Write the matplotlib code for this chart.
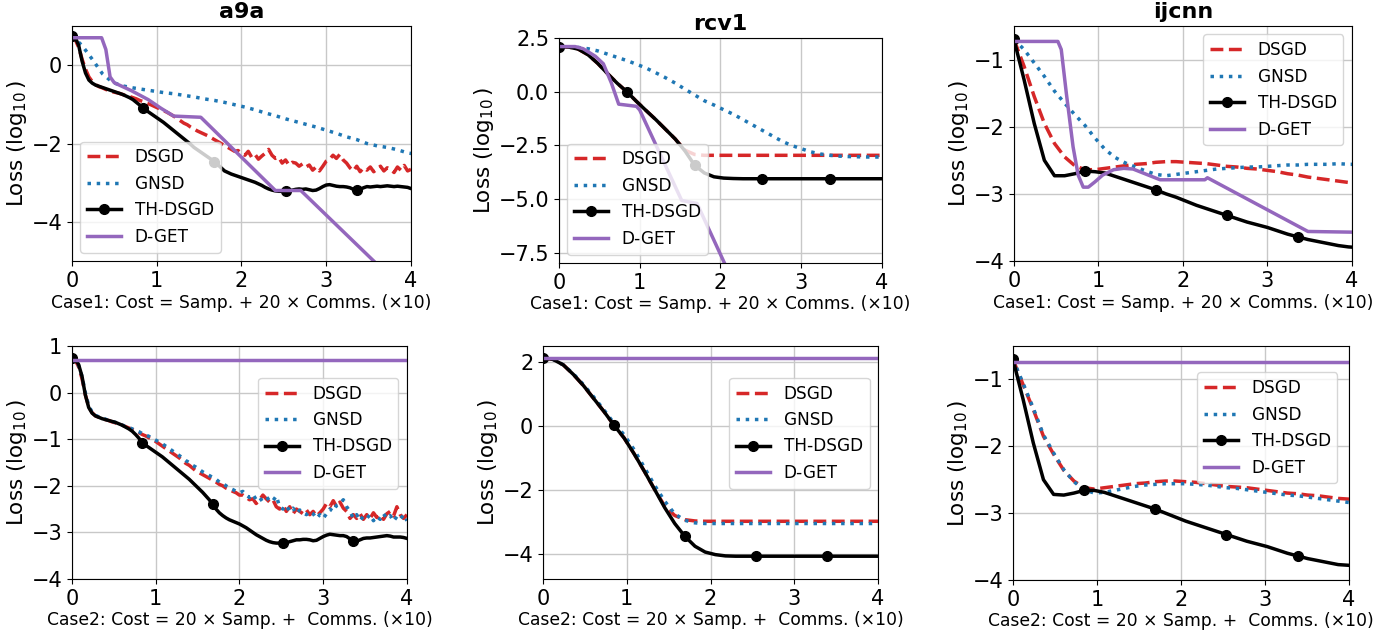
import numpy as np
import matplotlib
matplotlib.use('Agg')
import matplotlib.pyplot as plt

# x grids (cost, x10)
x_case1 = np.round(np.arange(35) * 0.12, 3)
x_case2 = np.round(np.arange(35) * 0.121, 3)
x_fine = np.round(np.linspace(0, 4, 101), 2)

# ---------------- a9a, case 1 ----------------
a9a_c1_dsgd = [0.75, 0.65, 0.45, 0.15, -0.10, -0.30, -0.42, -0.50, -0.55, -0.58,
               -0.62, -0.65, -0.68, -0.70, -0.72, -0.75, -0.78, -0.80, -0.83, -0.86,
               -0.90, -0.93, -0.97, -1.00, -1.04, -1.08, -1.12, -1.16, -1.20, -1.25,
               -1.30, -1.36, -1.42, -1.48, -1.52, -1.58, -1.63, -1.68, -1.72, -1.76,
               -1.80, -1.85, -1.90, -1.95, -2.00, -2.05, -2.10, -2.15, -2.20, -2.18,
               -2.25, -2.30, -2.20, -2.35, -2.28, -2.40, -2.32, -2.25, -2.15, -2.30,
               -2.38, -2.35, -2.50, -2.42, -2.55, -2.48, -2.50, -2.58, -2.52, -2.60,
               -2.55, -2.68, -2.60, -2.70, -2.58, -2.45, -2.40, -2.30, -2.38, -2.28,
               -2.42, -2.50, -2.62, -2.70, -2.58, -2.72, -2.62, -2.68, -2.60, -2.72,
               -2.65, -2.58, -2.70, -2.62, -2.66, -2.74, -2.60, -2.68, -2.56, -2.70,
               -2.66]
a9a_c1_gnsd = [0.75, 0.50, 0.15, -0.22, -0.44, -0.53, -0.58, -0.62, -0.66, -0.70,
               -0.73, -0.77, -0.81, -0.86, -0.90, -0.95, -1.01, -1.07, -1.14, -1.22,
               -1.29, -1.37, -1.44, -1.51, -1.58, -1.66, -1.74, -1.83, -1.90, -2.00,
               -2.06, -2.10, -2.16, -2.24, -2.28]
a9a_c1_th = [0.75, 0.70, 0.50, 0.10, -0.20, -0.38, -0.46, -0.51, -0.54, -0.57,
             -0.60, -0.63, -0.66, -0.69, -0.72, -0.75, -0.79, -0.83, -0.88, -0.95,
             -1.02, -1.10, -1.16, -1.22, -1.28, -1.34, -1.40, -1.46, -1.53, -1.60,
             -1.67, -1.74, -1.81, -1.88, -1.95, -2.02, -2.10, -2.16, -2.22, -2.28,
             -2.34, -2.40, -2.46, -2.54, -2.62, -2.70, -2.74, -2.78, -2.81, -2.84,
             -2.87, -2.90, -2.93, -2.96, -2.99, -3.03, -3.07, -3.12, -3.16, -3.19,
             -3.21, -3.22, -3.22, -3.22, -3.21, -3.19, -3.17, -3.16, -3.17, -3.16,
             -3.18, -3.20, -3.19, -3.15, -3.10, -3.06, -3.05, -3.07, -3.09, -3.10,
             -3.10, -3.11, -3.13, -3.17, -3.19, -3.17, -3.13, -3.10, -3.11, -3.10,
             -3.09, -3.10, -3.09, -3.08, -3.09, -3.10, -3.09, -3.10, -3.11, -3.12,
             -3.15]
a9a_c1_dget_x = [0, 0.35, 0.40, 0.45, 0.50, 0.70, 0.90, 1.05, 1.20, 1.52, 2.40, 2.70, 4.00]
a9a_c1_dget = [0.70, 0.70, 0.40, -0.30, -0.45, -0.65, -0.88, -1.10, -1.30, -1.33, -3.20, -3.20, -5.92]

# ---------------- rcv1, case 1 ----------------
rcv1_c1_dsgd = [2.10, 2.08, 1.98, 1.72, 1.32, 0.85, 0.40, 0.00, -0.45, -0.88,
                -1.30, -1.75, -2.20, -2.72, -2.92, -2.96] + [-2.96] * 19
rcv1_c1_gnsd = [2.10, 2.09, 2.06, 2.00, 1.90, 1.75, 1.60, 1.45, 1.28, 1.10,
                0.88, 0.65, 0.40, 0.12, -0.15, -0.42, -0.62, -0.84, -1.05, -1.30,
                -1.55, -1.80, -2.05, -2.30, -2.50, -2.65, -2.80, -2.90, -2.96, -3.00,
                -3.02, -3.03, -3.04, -3.04, -3.04]
rcv1_c1_th = [2.10, 2.08, 1.98, 1.72, 1.32, 0.85, 0.40, 0.00, -0.45, -0.88,
              -1.30, -1.75, -2.20, -2.75, -3.42, -3.78, -3.96, -4.02, -4.04, -4.05] + [-4.05] * 15
rcv1_c1_dget_x = [0, 0.20, 0.30, 0.45, 0.55, 0.65, 0.74, 0.96, 1.00, 1.52, 1.71, 2.20]
rcv1_c1_dget = [2.10, 2.10, 2.00, 1.65, 1.30, 0.40, -0.58, -0.68, -0.85, -5.06, -5.20, -9.20]

# ---------------- ijcnn, case 1 ----------------
ijcnn_c1_dsgd = [-0.70, -1.10, -1.55, -1.95, -2.25, -2.45, -2.58, -2.64, -2.64, -2.62,
                 -2.60, -2.58, -2.56, -2.55, -2.53, -2.52, -2.52, -2.53, -2.54, -2.55,
                 -2.57, -2.59, -2.60, -2.62, -2.63, -2.65, -2.67, -2.70, -2.72, -2.75,
                 -2.77, -2.79, -2.81, -2.83, -2.84]
ijcnn_c1_gnsd = [-0.70, -0.85, -1.05, -1.25, -1.47, -1.65, -1.82, -1.98, -2.17, -2.34,
                 -2.46, -2.54, -2.60, -2.66, -2.71, -2.73, -2.71, -2.69, -2.67, -2.65,
                 -2.63, -2.62, -2.61, -2.60, -2.60, -2.59, -2.58, -2.57, -2.57, -2.56,
                 -2.56, -2.56, -2.55, -2.56, -2.56]
ijcnn_c1_th = [-0.70, -1.30, -1.95, -2.50, -2.73, -2.73, -2.70, -2.66, -2.67, -2.69,
               -2.74, -2.79, -2.84, -2.89, -2.94, -3.00, -3.05, -3.11, -3.17, -3.22,
               -3.27, -3.32, -3.37, -3.42, -3.46, -3.50, -3.55, -3.60, -3.64, -3.68,
               -3.71, -3.74, -3.77, -3.79, -3.80]
ijcnn_c1_dget_x = [0, 0.52, 0.56, 0.62, 0.70, 0.76, 0.82, 0.88, 0.96, 1.05,
                   1.18, 1.30, 1.41, 1.55, 1.73, 2.26, 2.29, 3.48, 4.00]
ijcnn_c1_dget = [-0.73, -0.73, -0.85, -1.50, -2.30, -2.72, -2.90, -2.90, -2.82, -2.72,
                 -2.64, -2.62, -2.63, -2.70, -2.79, -2.79, -2.76, -3.56, -3.57]

# ---------------- a9a, case 2 ----------------
a9a_c2_dsgd = [0.74, 0.70, 0.55, 0.30, -0.05, -0.30, -0.43, -0.50, -0.53, -0.56,
               -0.58, -0.60, -0.63, -0.65, -0.68, -0.70, -0.73, -0.76, -0.79, -0.82,
               -0.86, -0.90, -0.93, -0.97, -1.00, -1.05, -1.10, -1.15, -1.20, -1.25,
               -1.30, -1.35, -1.40, -1.46, -1.52, -1.56, -1.62, -1.68, -1.72, -1.76,
               -1.80, -1.84, -1.88, -1.92, -1.97, -2.00, -2.05, -2.08, -2.12, -2.15,
               -2.20, -2.20, -2.25, -2.30, -2.28, -2.38, -2.30, -2.20, -2.28, -2.35,
               -2.30, -2.45, -2.50, -2.42, -2.55, -2.45, -2.60, -2.50, -2.55, -2.60,
               -2.52, -2.62, -2.55, -2.65, -2.58, -2.50, -2.38, -2.45, -2.32, -2.45,
               -2.35, -2.48, -2.55, -2.70, -2.62, -2.70, -2.60, -2.72, -2.62, -2.70,
               -2.58, -2.68, -2.62, -2.72, -2.60, -2.55, -2.65, -2.45, -2.62, -2.70,
               -2.62]
a9a_c2_gnsd = [0.74, 0.72, 0.58, 0.35, 0.00, -0.28, -0.42, -0.49, -0.52, -0.55,
               -0.57, -0.60, -0.62, -0.64, -0.67, -0.70, -0.72, -0.75, -0.78, -0.81,
               -0.84, -0.88, -0.91, -0.94, -0.98, -1.02, -1.06, -1.10, -1.15, -1.20,
               -1.25, -1.30, -1.35, -1.40, -1.46, -1.50, -1.56, -1.60, -1.65, -1.70,
               -1.74, -1.78, -1.82, -1.86, -1.92, -1.95, -2.00, -2.05, -2.08, -2.12,
               -2.15, -2.12, -2.20, -2.25, -2.18, -2.30, -2.25, -2.35, -2.30, -2.25,
               -2.32, -2.22, -2.45, -2.50, -2.42, -2.55, -2.48, -2.60, -2.52, -2.58,
               -2.62, -2.55, -2.60, -2.70, -2.62, -2.70, -2.60, -2.50, -2.55, -2.42,
               -2.38, -2.30, -2.45, -2.55, -2.70, -2.62, -2.75, -2.65, -2.70, -2.62,
               -2.75, -2.66, -2.72, -2.60, -2.70, -2.64, -2.76, -2.66, -2.72, -2.62,
               -2.75]
a9a_c2_th = [0.74, 0.72, 0.60, 0.35, -0.05, -0.32, -0.44, -0.50, -0.53, -0.56,
             -0.58, -0.60, -0.62, -0.64, -0.67, -0.70, -0.74, -0.78, -0.83, -0.90,
             -0.98, -1.08, -1.13, -1.18, -1.23, -1.28, -1.33, -1.38, -1.44, -1.50,
             -1.56, -1.62, -1.68, -1.74, -1.80, -1.86, -1.93, -2.00, -2.07, -2.14,
             -2.22, -2.30, -2.40, -2.50, -2.58, -2.64, -2.69, -2.73, -2.76, -2.79,
             -2.82, -2.86, -2.90, -2.95, -3.00, -3.05, -3.09, -3.13, -3.17, -3.20,
             -3.22, -3.23, -3.23, -3.23, -3.22, -3.20, -3.18, -3.16, -3.16, -3.15,
             -3.15, -3.16, -3.18, -3.17, -3.13, -3.09, -3.06, -3.04, -3.05, -3.06,
             -3.07, -3.07, -3.09, -3.14, -3.18, -3.19, -3.16, -3.13, -3.12, -3.12,
             -3.11, -3.10, -3.09, -3.08, -3.07, -3.08, -3.10, -3.10, -3.10, -3.11,
             -3.13]
a9a_c2_dget = [0.69, 0.69]

# ---------------- rcv1, case 2 ----------------
rcv1_c2_dsgd = [2.12, 2.07, 1.90, 1.60, 1.25, 0.85, 0.45, 0.02, -0.38, -0.88,
                -1.42, -1.98, -2.50, -2.80, -2.93, -2.97] + [-2.98] * 19
rcv1_c2_gnsd = [2.12, 2.07, 1.90, 1.62, 1.28, 0.90, 0.50, 0.08, -0.28, -0.75,
                -1.30, -1.85, -2.35, -2.75, -2.95, -3.03] + [-3.05] * 19
rcv1_c2_th = [2.12, 2.07, 1.90, 1.60, 1.25, 0.85, 0.45, 0.02, -0.38, -0.88,
              -1.42, -1.98, -2.55, -3.05, -3.45, -3.76, -3.94, -4.02, -4.06, -4.07] + [-4.07] * 15
rcv1_c2_dget = [2.11, 2.11]

# ---------------- ijcnn, case 2 ----------------
ijcnn_c2_dsgd = [-0.70, -1.08, -1.45, -1.85, -2.12, -2.36, -2.52, -2.62, -2.64, -2.62,
                 -2.60, -2.58, -2.56, -2.55, -2.53, -2.52, -2.52, -2.53, -2.54, -2.56,
                 -2.58, -2.60, -2.61, -2.62, -2.64, -2.66, -2.68, -2.70, -2.71, -2.73,
                 -2.74, -2.76, -2.78, -2.79, -2.80]
ijcnn_c2_gnsd = [-0.70, -1.06, -1.43, -1.83, -2.10, -2.35, -2.53, -2.65, -2.70, -2.69,
                 -2.66, -2.63, -2.60, -2.58, -2.57, -2.56, -2.56, -2.56, -2.57, -2.58,
                 -2.60, -2.62, -2.63, -2.65, -2.67, -2.69, -2.71, -2.73, -2.74, -2.76,
                 -2.78, -2.80, -2.82, -2.84, -2.86]
ijcnn_c2_th = [-0.70, -1.30, -1.95, -2.50, -2.72, -2.73, -2.70, -2.66, -2.66, -2.69,
               -2.74, -2.79, -2.84, -2.89, -2.94, -3.00, -3.06, -3.12, -3.17, -3.22,
               -3.27, -3.32, -3.37, -3.42, -3.46, -3.50, -3.55, -3.60, -3.64, -3.68,
               -3.71, -3.74, -3.77, -3.78, -3.79]
ijcnn_c2_dget = [-0.74, -0.74]

flat_x = [0, 4]

RED = '#d62728'
BLUE = '#1f77b4'
PURPLE = '#9467bd'

XLAB1 = 'Case1: Cost = Samp. + 20 \u00d7 Comms. (\u00d710)'
XLAB2 = 'Case2: Cost = 20 \u00d7 Samp. +  Comms. (\u00d710)'

MARK_COARSE = slice(0, 29, 7)
MARK_FINE = slice(0, 85, 21)


def draw_panel(ax, dsgd, gnsd, th, dget, ylim, yticks, xlabel, legend_kw, title=None):
    ax.plot(dsgd[0], dsgd[1], color=RED, ls='--', lw=2.5, label='DSGD')
    ax.plot(gnsd[0], gnsd[1], color=BLUE, ls=':', lw=2.5, label='GNSD')
    every = MARK_FINE if len(th[0]) > 50 else MARK_COARSE
    ax.plot(th[0], th[1], color='black', lw=2.5, marker='o', ms=7,
            markevery=every, label='TH-DSGD')
    ax.plot(dget[0], dget[1], color=PURPLE, lw=2.5, label='D-GET')
    ax.set_xlim(0, 4)
    ax.set_ylim(*ylim)
    ax.set_xticks([0, 1, 2, 3, 4])
    ax.set_yticks(yticks)
    ax.tick_params(labelsize=15)
    ax.grid(True, color='#c8c8c8', lw=1)
    ax.set_xlabel(xlabel, fontsize=12.3, labelpad=2)
    ax.set_ylabel('Loss ($\\log_{10}$)', fontsize=15.5, labelpad=2)
    if title:
        ax.set_title(title, fontsize=16, fontweight='bold')
    ax.legend(fontsize=12.2, **legend_kw)


fig = plt.figure(figsize=(13.97, 6.34), dpi=100)

ax1 = fig.add_axes([0.0515, 0.5883, 0.2427, 0.3707])
ax2 = fig.add_axes([0.4001, 0.5852, 0.2312, 0.3549])
ax3 = fig.add_axes([0.7258, 0.5883, 0.2419, 0.3707])
ax4 = fig.add_axes([0.0515, 0.0868, 0.2398, 0.3675])
ax5 = fig.add_axes([0.3887, 0.0868, 0.2398, 0.3675])
ax6 = fig.add_axes([0.7251, 0.0852, 0.2405, 0.3691])

draw_panel(ax1, (x_fine, a9a_c1_dsgd), (x_case1, a9a_c1_gnsd), (x_fine, a9a_c1_th),
           (a9a_c1_dget_x, a9a_c1_dget), (-5, 1), [-4, -2, 0], XLAB1,
           dict(loc='lower left'), title='a9a')
draw_panel(ax2, (x_case1, rcv1_c1_dsgd), (x_case1, rcv1_c1_gnsd), (x_case1, rcv1_c1_th),
           (rcv1_c1_dget_x, rcv1_c1_dget), (-7.97, 2.5), [-7.5, -5, -2.5, 0, 2.5], XLAB1,
           dict(loc='lower left'), title='rcv1')
draw_panel(ax3, (x_case1, ijcnn_c1_dsgd), (x_case1, ijcnn_c1_gnsd), (x_case1, ijcnn_c1_th),
           (ijcnn_c1_dget_x, ijcnn_c1_dget), (-4, -0.5), [-4, -3, -2, -1], XLAB1,
           dict(loc='upper right'), title='ijcnn')
draw_panel(ax4, (x_fine, a9a_c2_dsgd), (x_fine, a9a_c2_gnsd), (x_fine, a9a_c2_th),
           (flat_x, a9a_c2_dget), (-4, 1), [-4, -3, -2, -1, 0, 1], XLAB2,
           dict(loc='upper right', bbox_to_anchor=(1, 0.90)))
draw_panel(ax5, (x_case2, rcv1_c2_dsgd), (x_case2, rcv1_c2_gnsd), (x_case2, rcv1_c2_th),
           (flat_x, rcv1_c2_dget), (-4.78, 2.49), [-4, -2, 0, 2], XLAB2,
           dict(loc='upper right', bbox_to_anchor=(1, 0.90)))
draw_panel(ax6, (x_case2, ijcnn_c2_dsgd), (x_case2, ijcnn_c2_gnsd), (x_case2, ijcnn_c2_th),
           (flat_x, ijcnn_c2_dget), (-4, -0.5), [-4, -3, -2, -1], XLAB2,
           dict(loc='upper right', bbox_to_anchor=(0.991, 0.923)))

fig.savefig('out.png', dpi=100)
